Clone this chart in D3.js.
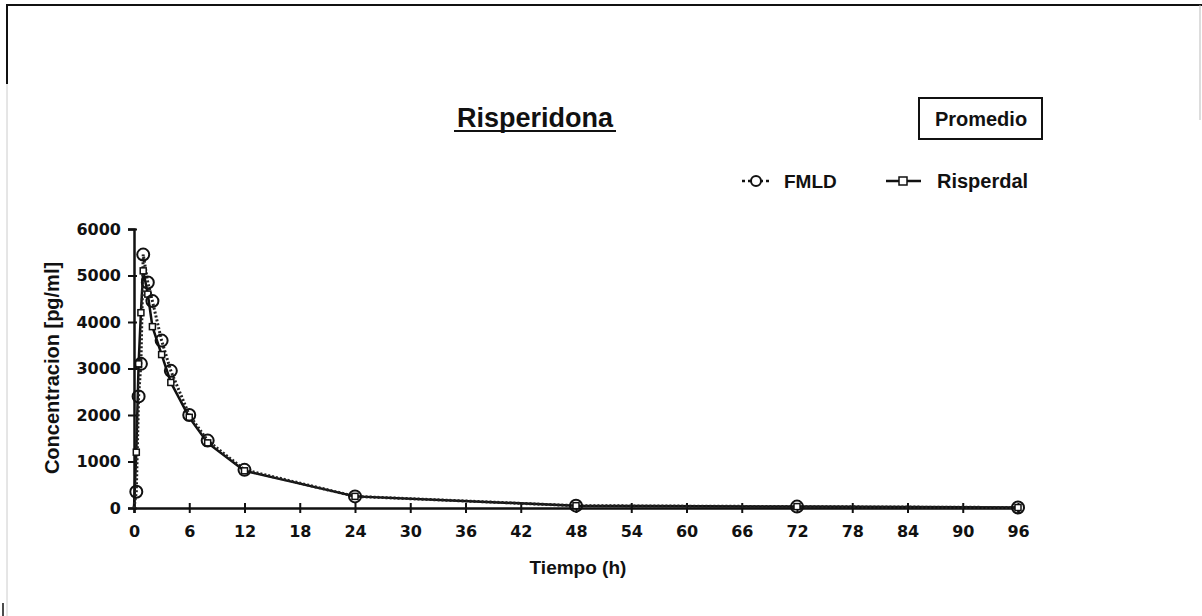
<!DOCTYPE html>
<html><head><meta charset="utf-8">
<script src="https://cdn.jsdelivr.net/npm/d3@7"></script>
<style>body{margin:0;background:#fff}svg{display:block}text{font-family:"Liberation Sans",Arial,sans-serif;font-weight:bold;fill:#111}</style>
</head><body><div id="c"></div>
<script>
const times = [0,0.25,0.5,0.75,1,1.5,2,3,4,6,8,12,24,48,72,96];
const fmld = [0,350,2400,3100,5450,4850,4450,3600,2950,2000,1450,820,250,50,30,10];
const risperdal = [0,1200,3100,4200,5100,4600,3900,3300,2700,1950,1400,800,250,50,30,10];
const xTicks = [0,6,12,18,24,30,36,42,48,54,60,66,72,78,84,90,96];
const yTicks = [0,1000,2000,3000,4000,5000,6000];

const W=1202,H=616;
const svg=d3.select("#c").append("svg").attr("width",W).attr("height",H);
// frame
svg.append("line").attr("x1",7).attr("x2",1202).attr("y1",5).attr("y2",5).attr("stroke","#111").attr("stroke-width",2);
svg.append("line").attr("x1",7).attr("x2",7).attr("y1",4).attr("y2",84).attr("stroke","#111").attr("stroke-width",2);
svg.append("line").attr("x1",7).attr("x2",7).attr("y1",84).attr("y2",616).attr("stroke","#ccc").attr("stroke-width",1);
svg.append("line").attr("x1",1200).attr("x2",1200).attr("y1",5).attr("y2",120).attr("stroke","#bbb").attr("stroke-width",1);
svg.append("line").attr("x1",3).attr("x2",3).attr("y1",603).attr("y2",616).attr("stroke","#111").attr("stroke-width",1.5);

const x=d3.scaleLinear().domain([0,96]).range([134,1018]);
const y=d3.scaleLinear().domain([0,6000]).range([508,229]);

const tickFont='"DejaVu Sans",sans-serif';
// axes
const gy=svg.append("g").attr("transform","translate(134,0)")
  .call(d3.axisLeft(y).tickValues(yTicks).tickFormat(d3.format("d")).tickSize(6).tickPadding(7));
gy.select(".domain").attr("stroke","#111").attr("stroke-width",2.5);
gy.selectAll(".tick line").attr("stroke","#111").attr("stroke-width",2).attr("x2",-6).attr("x1",3);
gy.selectAll(".tick text").style("font-size","16px").style("font-family",tickFont).style("font-weight","bold").attr("fill","#111");

const gx=svg.append("g").attr("transform","translate(0,508)")
  .call(d3.axisBottom(x).tickValues(xTicks).tickSize(5).tickPadding(13));
gx.select(".domain").attr("stroke","#111").attr("stroke-width",2.5);
gx.selectAll(".tick line").attr("stroke","#111").attr("stroke-width",2).attr("y1",-5).attr("y2",5);
gx.selectAll(".tick text").style("font-size","16px").style("font-family",tickFont).style("font-weight","bold").attr("fill","#111");

// series
const pts=(vals)=>times.map((t,i)=>[t,vals[i]]);
const line=d3.line().x(d=>x(d[0])).y(d=>y(d[1]));
svg.append("path").datum(pts(risperdal)).attr("d",line).attr("fill","none").attr("stroke","#111").attr("stroke-width",2.5);
svg.append("path").datum(pts(fmld)).attr("d",line).attr("fill","none").attr("stroke","#222").attr("stroke-width",3).attr("stroke-dasharray","2,2");
svg.append("g").selectAll("rect").data(pts(risperdal).slice(1)).join("rect")
  .attr("x",d=>x(d[0])-3).attr("y",d=>y(d[1])-3).attr("width",6).attr("height",6)
  .attr("fill","#fff").attr("stroke","#111").attr("stroke-width",1.5);
svg.append("g").selectAll("circle").data(pts(fmld).slice(1)).join("circle")
  .attr("cx",d=>x(d[0])).attr("cy",d=>y(d[1])).attr("r",6)
  .attr("fill","none").attr("stroke","#111").attr("stroke-width",2);

// titles
svg.append("text").attr("x",535).attr("y",127).attr("text-anchor","middle").attr("font-size",27).text("Risperidona");
svg.append("line").attr("x1",454).attr("x2",616).attr("y1",131).attr("y2",131).attr("stroke","#111").attr("stroke-width",2);
svg.append("rect").attr("x",919).attr("y",98).attr("width",123).attr("height",41).attr("fill","none").attr("stroke","#111").attr("stroke-width",2);
svg.append("text").attr("x",981).attr("y",126).attr("text-anchor","middle").attr("font-size",20).text("Promedio");

// legend
svg.append("line").attr("x1",742).attr("x2",770).attr("y1",181).attr("y2",181).attr("stroke","#111").attr("stroke-width",2.5).attr("stroke-dasharray","3,3");
svg.append("circle").attr("cx",756).attr("cy",181).attr("r",5).attr("fill","#fff").attr("stroke","#111").attr("stroke-width",2);
svg.append("text").attr("x",784).attr("y",188).attr("font-size",19).text("FMLD");
svg.append("line").attr("x1",886).attr("x2",921).attr("y1",181).attr("y2",181).attr("stroke","#111").attr("stroke-width",2.5);
svg.append("rect").attr("x",899).attr("y",177).attr("width",8).attr("height",8).attr("fill","#fff").attr("stroke","#111").attr("stroke-width",1.5);
svg.append("text").attr("x",937).attr("y",188).attr("font-size",20).text("Risperdal");

svg.append("text").attr("x",578).attr("y",574).attr("text-anchor","middle").attr("font-size",19).text("Tiempo (h)");
svg.append("text").attr("transform","translate(59,368) rotate(-90)").attr("text-anchor","middle").attr("font-size",20).text("Concentracion [pg/ml]");
</script></body></html>
